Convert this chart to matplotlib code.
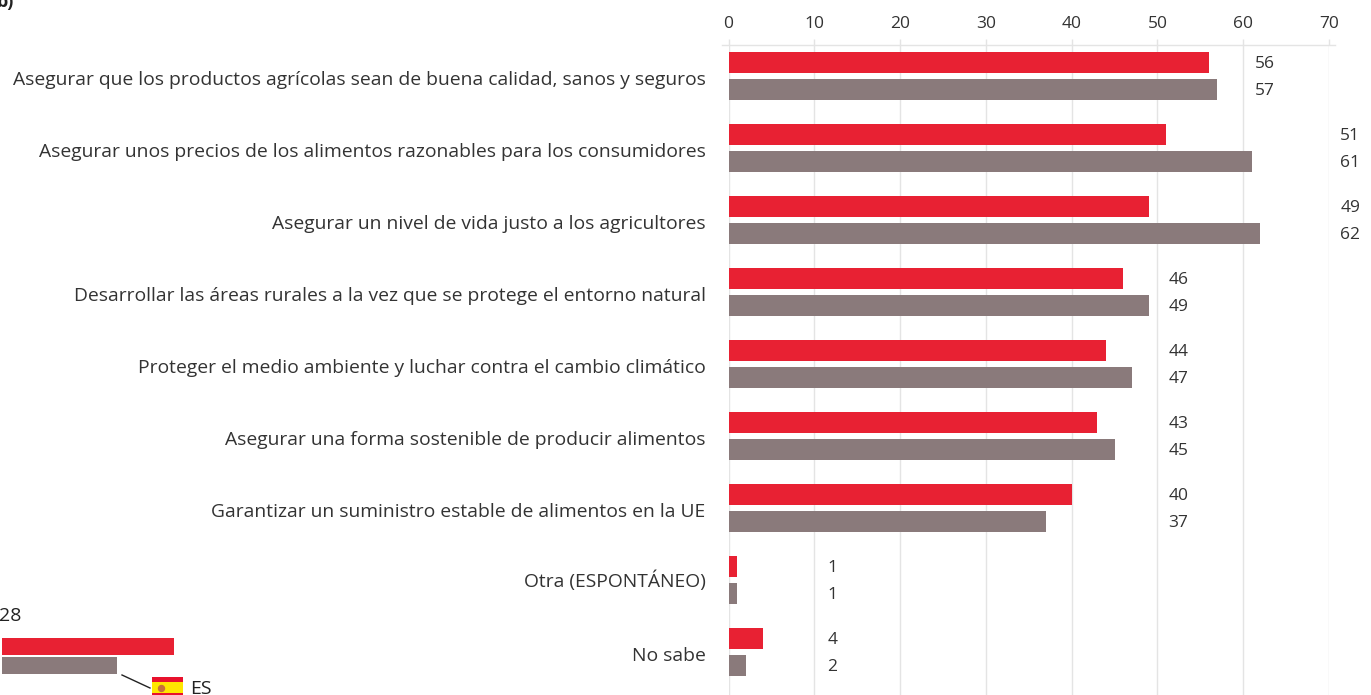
import matplotlib
matplotlib.use('Agg')
import matplotlib.pyplot as plt
from matplotlib.colors import ListedColormap
from matplotlib.transforms import ScaledTranslation
import numpy as np

categories = ['Asegurar que los productos agrícolas sean de buena calidad, sanos y seguros',
              'Asegurar unos precios de los alimentos razonables para los consumidores',
              'Asegurar un nivel de vida justo a los agricultores',
              'Desarrollar las áreas rurales a la vez que se protege el entorno natural',
              'Proteger el medio ambiente y luchar contra el cambio climático',
              'Asegurar una forma sostenible de producir alimentos',
              'Garantizar un suministro estable de alimentos en la UE',
              'Otra (ESPONTÁNEO)',
              'No sabe']
es_values = [56, 51, 49, 46, 44, 43, 40, 1, 4]
eu_values = [57, 61, 62, 49, 47, 45, 37, 1, 2]
x_ticks = [0, 10, 20, 30, 40, 50, 60, 70]
key_values = [30, 20]

RED = '#e82133'
GREY = '#8a7a7b'
TEXT = '#333333'
LINE = '#e4e4e4'
W, H = 1371, 695

plt.rcParams['font.family'] = ['Open Sans', 'DejaVu Sans']

fig = plt.figure(figsize=(W / 100, H / 100), dpi=100)
ax = fig.add_axes([728.5 / W, 0, (1329 - 728.5) / W, (H - 45) / H])

y = np.arange(len(categories))
ax.barh(y - 0.1875, es_values, 0.295, color=RED, zorder=3)
ax.barh(y + 0.1875, eu_values, 0.295, color=GREY, zorder=3)
ax.set_xlim(0, 70)
ax.set_ylim(8.597, -0.43)

ax.xaxis.tick_top()
ax.set_xticks(x_ticks)
ax.set_yticks(y)
ax.set_yticklabels(categories)
ax.tick_params(axis='x', length=4.3, width=1, color=LINE, pad=5.4, labelsize=12.5, labelcolor=TEXT)
ax.tick_params(axis='y', length=0, pad=16.5, labelsize=13.85, labelcolor=TEXT)
ax.grid(axis='x', color=LINE, lw=1, zorder=0)
for name in ['left', 'right', 'bottom', 'top']:
    ax.spines[name].set_visible(False)
# top rule runs a little past both ends of the scale
ax.plot([-0.01, 1.01], [1, 1], transform=ax.transAxes, color=LINE, lw=1, clip_on=False)

# category labels sit slightly below the middle of each pair, the bracket one less so
for label in ax.get_yticklabels():
    dy = 0.7 if '(' in label.get_text() else -1.5
    label.set_transform(label.get_transform() + ScaledTranslation(0, dy / 72, fig.dpi_scale_trans))

# value labels sit in columns, not next to the bars
label_cols = [61.4, 71.3, 71.3, 51.3, 51.3, 51.3, 51.3, 11.5, 11.5]
for i in y:
    ax.text(label_cols[i], i - 0.172, str(es_values[i]), fontsize=12.5, color=TEXT,
            va='center', clip_on=False)
    ax.text(label_cols[i], i + 0.208, str(eu_values[i]), fontsize=12.5, color=TEXT,
            va='center', clip_on=False)

# piece of the neighbouring panel, cut off in the bottom left corner
key_ax = fig.add_axes([2 / W, (H - 675) / H, 172 / W, 38 / H])
key_ax.barh([0, 1], key_values, 0.85, color=[RED, GREY])
key_ax.set_xlim(0, 30)
key_ax.set_ylim(1.5, -0.5)
key_ax.axis('off')

flag_ax = fig.add_axes([152 / W, (H - 699) / H, 31 / W, 22 / H])
flag_ax.imshow(np.array([[0], [1], [1], [0]]), aspect='auto',
               cmap=ListedColormap(['#e8112d', '#ffe600']))
flag_ax.plot([-0.21], [1.5], 'o', ms=4.3, color='#c8703a')
flag_ax.set_xlim(-0.5, 0.5)
flag_ax.set_ylim(3.5, -0.5)
flag_ax.axis('off')

fig.add_artist(plt.Line2D([122 / W, 150 / W], [(H - 675) / H, (H - 688) / H],
                          color='#222222', lw=1))
fig.text(-1 / W, (H - 616) / H, '28', fontsize=14, color='#222222', va='center')
fig.text(190 / W, (H - 689) / H, 'ES', fontsize=14, color='#222222', va='center')
fig.text(-3 / W, (H - 2) / H, 'b)', fontsize=13, fontweight='bold', color='#222222', va='center')

fig.savefig('out.png', dpi=100)
